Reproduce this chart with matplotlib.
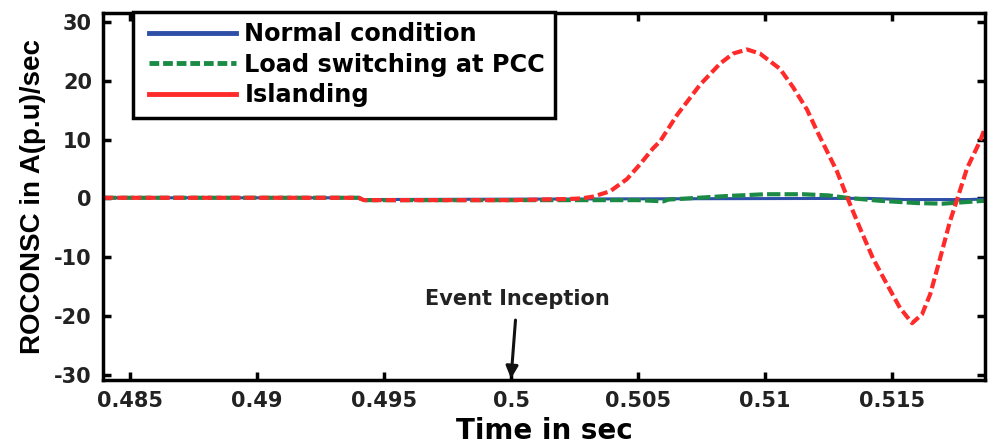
import matplotlib
matplotlib.use("Agg")
import matplotlib.pyplot as plt
from matplotlib.lines import Line2D
from matplotlib.legend_handler import HandlerLine2D

plt.rcParams["axes.unicode_minus"] = False

# =========================
# DATA
# =========================
t_normal = [0.48394, 0.4940, 0.4942, 0.5030, 0.5140, 0.5155, 0.5180, 0.51866]
normal = [0.1, 0.1, -0.2, -0.1, 0.0, -0.2, -0.2, -0.1]

t_load = [0.48394, 0.4940, 0.4942, 0.5030, 0.5050, 0.5060, 0.5062, 0.5070,
          0.5085, 0.5100, 0.5115, 0.5125, 0.5132, 0.5145, 0.5160, 0.5170,
          0.5180, 0.51866]
load = [0.1, 0.1, -0.3, -0.3, -0.3, -0.5, -0.2, 0.0,
        0.4, 0.7, 0.7, 0.5, 0.1, -0.4, -0.8, -0.9,
        -0.6, -0.4]

t_island = [0.48394, 0.4940, 0.4942, 0.5000, 0.5023, 0.5028, 0.50323,
            0.50390, 0.50457, 0.50508, 0.50559, 0.50587, 0.50654, 0.50693,
            0.50744, 0.50823, 0.50874, 0.50929,
            0.50980, 0.51059, 0.51110, 0.51165, 0.51205, 0.51244, 0.51283,
            0.51327, 0.51374, 0.51425, 0.51480, 0.51531, 0.51579, 0.51618,
            0.51650, 0.51689, 0.51728, 0.51756, 0.51795, 0.51846, 0.51866]
island = [0.1, 0.1, -0.3, -0.3, -0.1, 0.0, 0.3,
          1.2, 3.3, 5.8, 8.5, 9.7, 14.2, 16.4,
          19.3, 22.9, 24.6, 25.3,
          24.6, 22.0, 18.9, 15.1, 11.4, 8.0, 4.6,
          -0.2, -5.1, -10.2, -14.6, -18.6, -21.2, -19.7,
          -16.3, -10.2, -3.9, -0.2, 5.1, 9.7, 12.0]

labels = ["Normal condition", "Load switching at PCC", "Islanding"]
x_ticks = [0.485, 0.49, 0.495, 0.5, 0.505, 0.51, 0.515]
x_ticklabels = ["0.485", "0.49", "0.495", "0.5", "0.505", "0.51", "0.515"]
y_ticks = [-30, -20, -10, 0, 10, 20, 30]

event_t = 0.5

# =========================
# PLOT
# =========================
fig = plt.figure(figsize=(9.88, 4.47), dpi=100)
ax = fig.add_axes([0.1043, 0.15, 0.8927, 0.821])

blue = "#2E4FA8"
green = "#1B8A45"
red = "#FF2A2A"

ax.plot(t_normal, normal, color=blue, lw=2.2)
ax.plot(t_load, load, color=green, lw=3, dashes=(3.2, 1.0))
ax.plot(t_island, island, color=red, lw=3, dashes=(2.4, 1.0))

ax.set_xlim(0.48394, 0.51866)
ax.set_ylim(-30.85, 31.5)
ax.set_xticks(x_ticks)
ax.set_xticklabels(x_ticklabels)
ax.set_yticks(y_ticks)

for s in ax.spines.values():
    s.set_linewidth(2.5)
ax.tick_params(direction="in", length=6, width=2.5, top=True, right=True,
               pad=8)
for lab in ax.get_xticklabels() + ax.get_yticklabels():
    lab.set_fontfamily("DejaVu Sans")
    lab.set_fontweight("bold")
    lab.set_fontsize(15)
    lab.set_color("#222222")

ax.set_xlabel("Time in sec", fontsize=20, fontweight="bold",
              family="DejaVu Sans", labelpad=4)
ax.set_ylabel("ROCONSC in A(p.u)/sec", fontsize=20, fontweight="bold",
              family="Liberation Sans", labelpad=6)

ax.annotate("Event Inception", xy=(event_t, -30.6), xytext=(0.50024, -17.1),
            ha="center", va="center", fontsize=15, fontweight="bold",
            family="DejaVu Sans", color="#222222",
            arrowprops=dict(arrowstyle="-|>", color="#111111", lw=2.2,
                            mutation_scale=18, shrinkA=6, shrinkB=0))

handles = [Line2D([], [], color=blue, lw=3.5),
           Line2D([], [], color=green, lw=3.5, dashes=(2.0, 0.8)),
           Line2D([], [], color=red, lw=3.5)]
leg = ax.legend(handles, labels, loc="upper left",
                bbox_to_anchor=(0.034, 1.003), borderaxespad=0,
                fancybox=False, framealpha=1,
                edgecolor="black", handlelength=3.88, handletextpad=0.33,
                borderpad=0.42, labelspacing=0.28,
                handler_map={Line2D: HandlerLine2D(xpad=0.26)},
                prop={"family": "DejaVu Sans", "weight": "bold", "size": 17.3})
leg.get_frame().set_linewidth(2.5)

fig.savefig("out.png", dpi=100)
